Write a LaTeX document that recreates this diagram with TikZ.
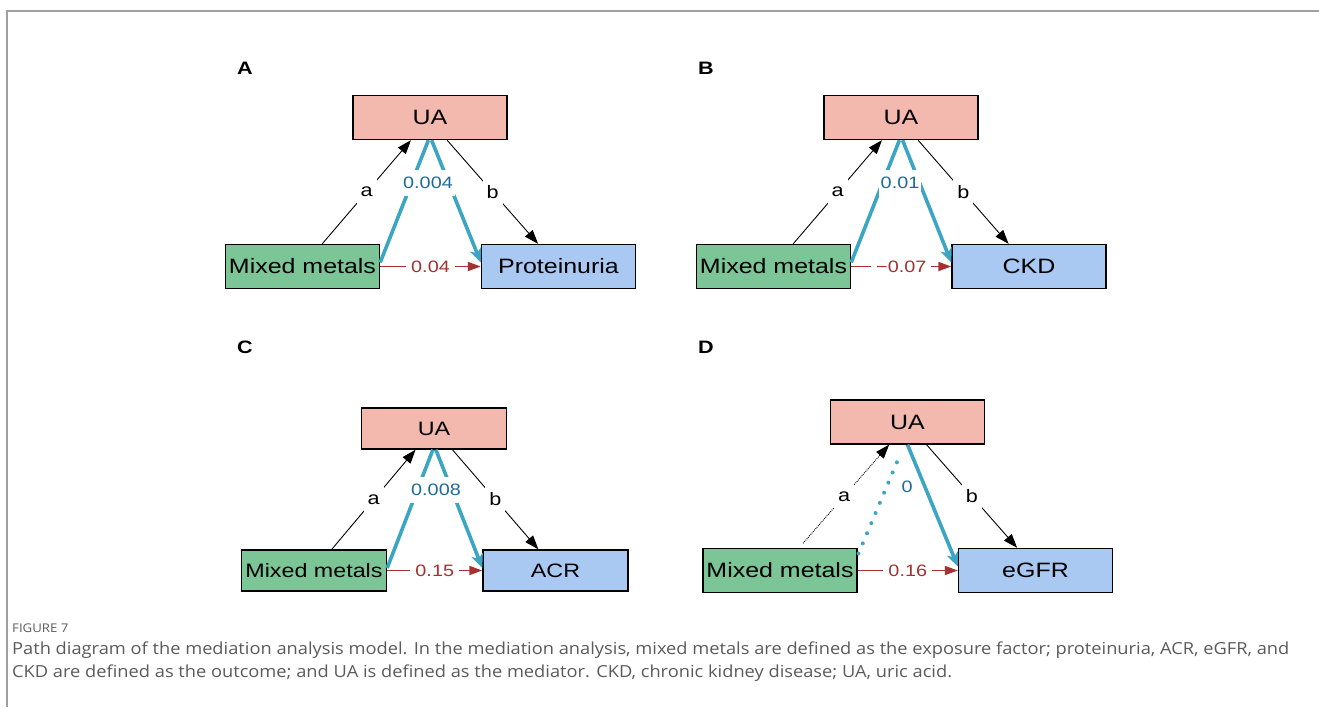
\documentclass[tikz,border=0pt]{standalone}
\usepackage{fontspec}
\setmainfont{Liberation Sans}
\newfontfamily\diagfont[FakeStretch=1.2]{Liberation Sans}
\newfontfamily\capfont[FakeStretch=1.1]{Open Sans}
\usepackage{tikz}
\usetikzlibrary{arrows.meta, calc, positioning}
\usepackage{xcolor}
\definecolor{uafill}{HTML}{F3B8AE}
\definecolor{mmfill}{HTML}{7CC596}
\definecolor{outfill}{HTML}{A9C9F2}
\definecolor{tealln}{HTML}{3CA5C2}
\definecolor{tealtx}{HTML}{1E6A99}
\definecolor{redln}{HTML}{A53131}
\definecolor{framegray}{HTML}{A0A0A0}
\definecolor{capgray}{HTML}{5A5A5A}
\tikzset{
  medbox/.style  ={draw, line width=1.4pt, fill=uafill, minimum width=154pt, minimum height=44pt, inner sep=0pt, font=\diagfont\fontsize{20.8}{24}\selectfont},
  expbox/.style  ={medbox, fill=mmfill},
  outbox/.style  ={medbox, fill=outfill},
  smallbox/.style={minimum width=145pt, minimum height=41pt, font=\diagfont\fontsize{19.4}{23}\selectfont},
  pathab/.style  ={-{Triangle[length=14pt, width=10pt]}, line width=0.9pt},
  indir/.style   ={line width=3.6pt, tealln},
  indirend/.style={indir, -{Stealth[length=14pt, width=12pt, inset=4pt]}},
  nullind/.style ={line width=4pt, tealln, line cap=round, dash pattern=on 0pt off 11pt},
  direct/.style  ={-{Triangle[length=13pt, width=9pt]}, line width=1.7pt, redln},
  ablbl/.style   ={fill=white, inner xsep=4pt, inner ysep=8pt, font=\diagfont\fontsize{18}{21}\selectfont},
  indlbl/.style  ={fill=white, text=tealtx, inner xsep=2pt, inner ysep=7pt, font=\diagfont\fontsize{16.5}{19}\selectfont},
  dirlbl/.style  ={fill=white, text=redln, inner xsep=5pt, inner ysep=2pt, font=\diagfont\fontsize{16.5}{19}\selectfont},
  panel/.style   ={font=\diagfont\bfseries\fontsize{18}{20}\selectfont},
  capthead/.style={anchor=west, inner sep=0pt, text=capgray, font=\capfont\fontsize{12}{14}\selectfont},
  capt/.style    ={anchor=west, inner sep=0pt, text=capgray, font=\capfont\fontsize{16.6}{19}\selectfont},
}
\begin{document}
\begin{tikzpicture}[x=1pt, y=-1pt]
  \useasboundingbox (0,0) rectangle (1319,707);
  \draw[framegray, line width=1.2pt] (7,707) -- (7,11) -- (1319,11);

  % A: proteinuria
  \node[panel] (labA) at (245,68) {A};
  \node[medbox] (uaA) at (430,117.5) {UA};
  \node[expbox] (mmA) at (302.5,266.5) {Mixed metals};
  \node[outbox] (prA) at (558.5,266.5) {Proteinuria};
  \draw[pathab] (mmA.49) -- node[ablbl]{a} (uaA.230);
  \draw[pathab] (uaA.307) -- node[ablbl]{b} (prA.132);
  \draw[indir] (mmA.3) -- (uaA.266);
  \draw[indirend] (uaA.274) -- (prA.177);
  \node[indlbl] (indA) at (428,183) {0.004};
  \draw[direct] (mmA) -- node[dirlbl]{0.04} (prA);

  % B: CKD
  \node[panel] (labB) at (706,68) {B};
  \node[medbox] (uaB) at (901,117.5) {UA};
  \node[expbox] (mmB) at (773.5,266.5) {Mixed metals};
  \node[outbox] (ckB) at (1029,266.5) {CKD};
  \draw[pathab] (mmB.49) -- node[ablbl]{a} (uaB.230);
  \draw[pathab] (uaB.307) -- node[ablbl]{b} (ckB.132);
  \draw[indir] (mmB.3) -- (uaB.266);
  \draw[indirend] (uaB.274) -- (ckB.177);
  \node[indlbl] (indB) at (900,183) {0.01};
  \draw[direct] (mmB) -- node[dirlbl]{−0.07} (ckB);

  % C: ACR
  \node[panel] (labC) at (245,347) {C};
  \node[medbox, smallbox] (uaC) at (434,428.5) {UA};
  \node[expbox, smallbox] (mmC) at (314,570.5) {Mixed metals};
  \node[outbox, smallbox] (acC) at (555.5,570.5) {ACR};
  \draw[pathab] (mmC.50) -- node[ablbl]{a} (uaC.229);
  \draw[pathab] (uaC.311) -- node[ablbl]{b} (acC.129);
  \draw[indir] (mmC.2) -- (uaC.267);
  \draw[indirend] (uaC.275) -- (acC.178);
  \node[indlbl] (indC) at (436,490) {0.008};
  \draw[direct] (mmC) -- node[dirlbl]{0.15} (acC);

  % D: eGFR
  \node[panel] (labD) at (706,347) {D};
  \node[medbox] (uaD) at (907.5,422) {UA};
  \node[expbox] (mmD) at (780,570.5) {Mixed metals};
  \node[outbox] (egD) at (1035.5,570.5) {eGFR};
  \draw[pathab, densely dotted, shorten <=6pt] (mmD.50) -- node[ablbl]{a} (uaD.231);
  \draw[pathab] (uaD.310) -- node[ablbl]{b} (egD.129);
  \draw[nullind, shorten <=2pt, shorten >=10pt] (mmD.11) -- (uaD.262);
  \draw[indirend] (uaD.270) -- (egD.177);
  \node[indlbl] (indD) at (907,487) {0};
  \draw[direct] (mmD) -- node[dirlbl]{0.16} (egD);

  % caption
  \node[capthead] (fig) at (12,628) {FIGURE 7};
  \node[capt] (cap1) at (12,650) {Path diagram of the mediation analysis model. In the mediation analysis, mixed metals are defined as the exposure factor; proteinuria, ACR, eGFR, and};
  \node[capt] (cap2) at (12,673) {CKD are defined as the outcome; and UA is defined as the mediator. CKD, chronic kidney disease; UA, uric acid.};
\end{tikzpicture}
\end{document}
